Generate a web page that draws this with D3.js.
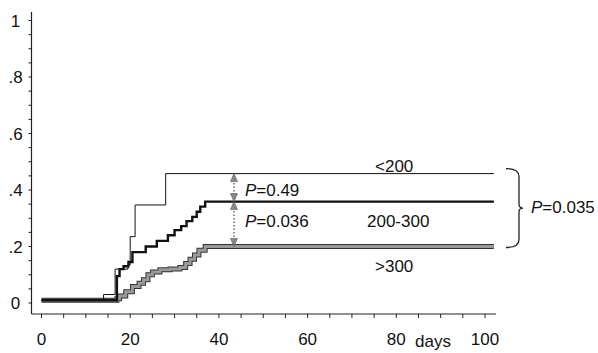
<!DOCTYPE html>
<html>
<head>
<meta charset="utf-8">
<script src="https://cdn.jsdelivr.net/npm/d3@7"></script>
<style>
  body { margin: 0; background: #fff; }
  text { font-family: "Liberation Sans", Arial, sans-serif; fill: #111; }
</style>
</head>
<body>
<svg id="chart" width="598" height="353"></svg>
<script>
// cumulative proportion vs days, step curves
const groupLow = [[0,0.01],[14,0.03],[16.6,0.12],[19.5,0.135],[20,0.235],[21.1,0.347],[28,0.458],[102,0.458]];
const groupMid = [[0,0.01],[17,0.095],[17.6,0.12],[18.5,0.13],[19.6,0.145],[20.5,0.18],[23.5,0.2],[26,0.22],[28.5,0.24],[30,0.258],[31.5,0.272],[32.7,0.29],[34,0.305],[35,0.323],[35.8,0.341],[36.9,0.359],[102,0.359]];
const groupHigh = [[0,0.01],[17,0.015],[17.6,0.025],[19,0.04],[20.5,0.058],[22,0.07],[23,0.082],[24,0.1],[25,0.11],[26.7,0.118],[29,0.12],[31.2,0.126],[32.5,0.14],[33.5,0.155],[34.5,0.17],[35.5,0.187],[36.9,0.2],[102,0.2]];
const groupLabels = ["<200", "200-300", ">300"];
const pLabels = ["P=0.49", "P=0.036", "P=0.035"];
const arrowDay = 43.4;
const yTickLabels = [0, 0.2, 0.4, 0.6, 0.8, 1];
const xTickLabels = [0, 20, 40, 60, 80, 100];

const svg = d3.select("#chart");
const x = d3.scaleLinear().domain([0, 100]).range([41.5, 485]);
const y = d3.scaleLinear().domain([0, 1]).range([303, 20.5]);

// axes
const xMinor = d3.range(0, 101, 5);
const yMinor = d3.range(0, 1.0001, 0.05);

svg.append("line").attr("x1", 31.5).attr("x2", 31.5).attr("y1", 12).attr("y2", 314)
  .attr("stroke", "#222").attr("stroke-width", 1.2);
svg.append("line").attr("x1", 31.5).attr("x2", 496).attr("y1", 314).attr("y2", 314)
  .attr("stroke", "#222").attr("stroke-width", 1.2);

svg.selectAll(".yt").data(yMinor).enter().append("line")
  .attr("x1", 28.5).attr("x2", 31.5)
  .attr("y1", d => y(d)).attr("y2", d => y(d))
  .attr("stroke", "#222");
svg.selectAll(".xt").data(xMinor).enter().append("line")
  .attr("x1", d => x(d)).attr("x2", d => x(d))
  .attr("y1", 314).attr("y2", 318)
  .attr("stroke", "#222");

svg.selectAll(".yl").data(yTickLabels).enter().append("text")
  .attr("x", 15.5).attr("y", d => y(d) + 6)
  .attr("text-anchor", "middle").attr("font-size", 17)
  .text(d => d === 0 ? "0" : d === 1 ? "1" : d3.format(".1f")(d).replace(/^0/, ""));
svg.selectAll(".xl").data(xTickLabels).enter().append("text")
  .attr("x", d => x(d)).attr("y", 345)
  .attr("text-anchor", "middle").attr("font-size", 17)
  .text(d => d);
svg.append("text").attr("x", 415).attr("y", 347).attr("font-size", 17).text("days");

// curves
const line = d3.line().x(d => x(d[0])).y(d => y(d[1])).curve(d3.curveStepAfter);

svg.append("path").datum(groupHigh).attr("d", line)
  .attr("fill", "none").attr("stroke", "#333").attr("stroke-width", 5);
svg.append("path").datum(groupHigh).attr("d", line)
  .attr("fill", "none").attr("stroke", "#9a9a9a").attr("stroke-width", 3);
svg.append("path").datum(groupMid).attr("d", line)
  .attr("fill", "none").attr("stroke", "#111").attr("stroke-width", 2.4);
svg.append("path").datum(groupLow).attr("d", line)
  .attr("fill", "none").attr("stroke", "#111").attr("stroke-width", 1);

// comparison arrows
const lowEnd = groupLow[groupLow.length - 1][1];
const midEnd = groupMid[groupMid.length - 1][1];
const highEnd = groupHigh[groupHigh.length - 1][1];
const ax = x(arrowDay);
function arrow(v1, v2) {
  const yt = y(v1), yb = y(v2);
  svg.append("line").attr("x1", ax).attr("x2", ax).attr("y1", yt + 6).attr("y2", yb - 6)
    .attr("stroke", "#444").attr("stroke-width", 1.2).attr("stroke-dasharray", "1.5,2");
  svg.append("path").attr("d", `M${ax},${yt} L${ax - 3.5},${yt + 8} L${ax + 3.5},${yt + 8} Z`)
    .attr("fill", "#888").attr("stroke", "#555").attr("stroke-width", 0.6);
  svg.append("path").attr("d", `M${ax},${yb} L${ax - 3.5},${yb - 8} L${ax + 3.5},${yb - 8} Z`)
    .attr("fill", "#888").attr("stroke", "#555").attr("stroke-width", 0.6);
}
arrow(lowEnd, midEnd);
arrow(midEnd, highEnd);

function pText(xp, yp, s) {
  const t = svg.append("text").attr("x", xp).attr("y", yp).attr("font-size", 17);
  t.append("tspan").attr("font-style", "italic").text(s[0]);
  t.append("tspan").text(s.slice(1));
}
pText(ax + 11, y(lowEnd) + 22, pLabels[0]);
pText(ax + 11, y(midEnd) + 25, pLabels[1]);
pText(531, 213, pLabels[2]);

svg.append("text").attr("x", 375).attr("y", y(lowEnd) - 2).attr("font-size", 17).text(groupLabels[0]);
svg.append("text").attr("x", 367).attr("y", y(midEnd) + 25).attr("font-size", 17).text(groupLabels[1]);
svg.append("text").attr("x", 375).attr("y", y(highEnd) + 25).attr("font-size", 17).text(groupLabels[2]);

// brace
const bt = y(lowEnd) - 5, bb = y(highEnd) + 1, bm = (bt + bb) / 2;
svg.append("path")
  .attr("d", `M506,${bt} Q519,${bt} 519,${bt + 8} L519,${bm - 4} Q519,${bm} 523,${bm} Q519,${bm} 519,${bm + 4} L519,${bb - 8} Q519,${bb} 506,${bb}`)
  .attr("fill", "none").attr("stroke", "#222").attr("stroke-width", 1.3);
</script>
</body>
</html>
